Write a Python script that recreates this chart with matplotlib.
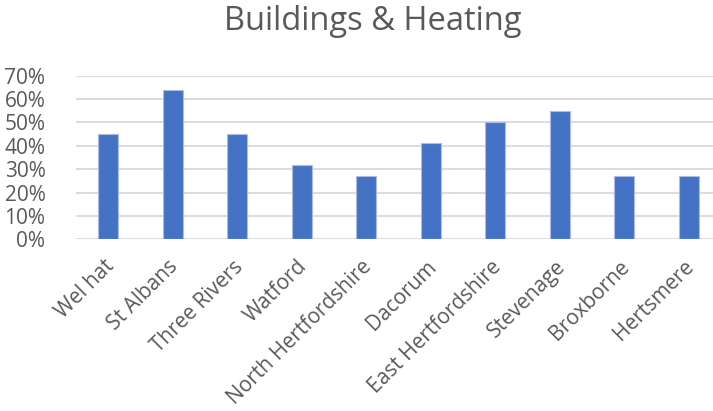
import matplotlib
matplotlib.use("Agg")
import matplotlib.pyplot as plt
from matplotlib.ticker import PercentFormatter, MultipleLocator
import matplotlib.transforms as mtransforms

categories = ["Wel hat", "St Albans", "Three Rivers", "Watford", "North Hertfordshire",
              "Dacorum", "East Hertfordshire", "Stevenage", "Broxborne", "Hertsmere"]
values = [0.45, 0.64, 0.45, 0.32, 0.27, 0.41, 0.50, 0.55, 0.27, 0.27]
title = "Buildings & Heating"

plt.rcParams['font.family'] = ['Open Sans', 'DejaVu Sans']
grey = "#595959"

fig = plt.figure(figsize=(7.13, 4.11), dpi=100)
ax = fig.add_axes([76/713, 1-239.3/411, 645/713, (239.3-75.7)/411])
x = list(range(len(categories)))
ax.bar(x, values, width=0.31, color="#4472C4", edgecolor="#A9BCE6", linewidth=0.8, zorder=3)
ax.set_xlim(-0.5, len(categories)-0.5)
ax.set_ylim(0, 0.7)
ax.yaxis.set_major_locator(MultipleLocator(0.1))
ax.yaxis.set_major_formatter(PercentFormatter(1.0, decimals=0))
ax.grid(axis='y', color="#D9D9D9", linewidth=1.3, zorder=0)
for s in ax.spines.values():
    s.set_visible(False)
ax.tick_params(axis='both', length=0, colors=grey, labelsize=15)
ax.tick_params(axis='y', pad=22)
ax.set_xticks(x)
ax.set_xticklabels(categories, rotation=45, ha='right', va='top', rotation_mode='anchor', fontsize=15)
off = mtransforms.ScaledTranslation(-5/100, -12/100, fig.dpi_scale_trans)
for lab in ax.get_xticklabels():
    lab.set_transform(lab.get_transform() + off)
fig.text(373/713, 1-22/411, title, ha='center', va='center', fontsize=23.5, color=grey)
fig.savefig("out.png", dpi=100)
